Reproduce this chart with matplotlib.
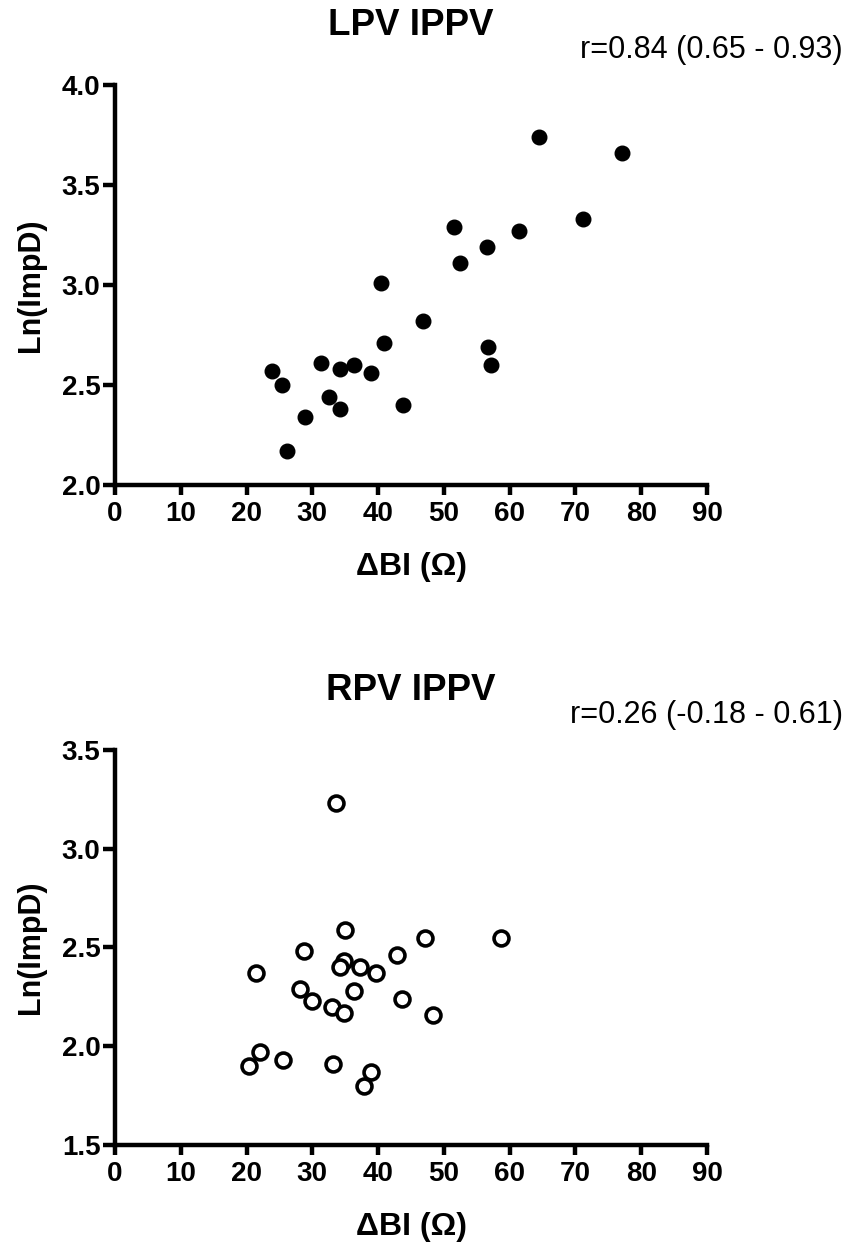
import matplotlib.pyplot as plt

plt.rcParams['font.family'] = ['Liberation Sans', 'DejaVu Sans']

# LPV IPPV (filled circles)
lpv_bi = [64.4, 77.1, 71.1, 51.5, 61.4, 56.5, 52.4, 40.5, 46.8, 40.9, 56.7, 57.1,
          31.3, 36.3, 34.2, 38.9, 23.8, 25.4, 32.5, 34.2, 43.8, 28.9, 26.1]
lpv_ln = [3.74, 3.66, 3.33, 3.29, 3.27, 3.19, 3.11, 3.01, 2.82, 2.71, 2.69, 2.60,
          2.61, 2.60, 2.58, 2.56, 2.57, 2.50, 2.44, 2.38, 2.40, 2.34, 2.17]

# RPV IPPV (open circles)
rpv_bi = [33.6, 35.0, 47.2, 58.7, 28.8, 42.9, 34.8, 34.2, 37.2, 39.7, 21.4, 28.2,
          36.4, 30.0, 43.7, 33.0, 34.8, 48.3, 22.0, 25.5, 20.4, 33.2, 38.9, 37.9]
rpv_ln = [3.23, 2.59, 2.55, 2.55, 2.48, 2.46, 2.43, 2.40, 2.40, 2.37, 2.37, 2.29,
          2.28, 2.23, 2.24, 2.20, 2.17, 2.16, 1.97, 1.93, 1.90, 1.91, 1.87, 1.80]

xticks = list(range(0, 100, 10))

fig = plt.figure(figsize=(8.62, 12.49), dpi=100)


# um painel de dispersao no estilo do Prism
def painel(rect, x, y, titulo, r_texto, yticks, aberto):
    ax = fig.add_axes(rect)
    h = rect[3] * 1249  # altura do eixo em pixels
    if aberto:
        ax.scatter(x, y, s=115, facecolors='white', edgecolors='black', linewidths=2.6, zorder=3, clip_on=False)
    else:
        ax.scatter(x, y, s=110, color='black', zorder=3, clip_on=False)
    ax.set_xlim(0, 90)
    ax.set_ylim(yticks[0], yticks[-1])
    ax.set_xticks(xticks)
    ax.set_yticks(yticks)
    ax.set_yticklabels(['%.1f' % v for v in yticks])
    for s in ['top', 'right']:
        ax.spines[s].set_visible(False)
    for s in ['left', 'bottom']:
        ax.spines[s].set_linewidth(3.2)
    ax.tick_params(axis='x', width=3.2, length=7.5, labelsize=20, pad=4)
    ax.tick_params(axis='y', width=3.2, length=8.5, labelsize=20, pad=2)
    for lab in ax.get_xticklabels() + ax.get_yticklabels():
        lab.set_fontweight('bold')
    ax.set_xlabel('ΔBI (Ω)', fontsize=23, fontweight='bold')
    ax.xaxis.label.set_va('center')
    ax.xaxis.set_label_coords(0.5, -82 / h)
    ax.set_ylabel('Ln(ImpD)', fontsize=22, fontweight='bold')
    ax.yaxis.label.set_va('center')
    ax.yaxis.set_label_coords(-84 / 592, 0.5)
    ax.text(0.5, 1 + 59 / h, titulo, transform=ax.transAxes, fontsize=26.5,
            fontweight='bold', ha='center', va='center')
    ax.text(1.229, 1 + 35 / h, r_texto, transform=ax.transAxes, fontsize=22, ha='right', va='center')
    return ax


painel([0.1334, 0.6117, 0.6868, 0.3203], lpv_bi, lpv_ln, 'LPV IPPV',
       'r=0.84 (0.65 - 0.93)', [2.0, 2.5, 3.0, 3.5, 4.0], False)
painel([0.1334, 0.0833, 0.6868, 0.3163], rpv_bi, rpv_ln, 'RPV IPPV',
       'r=0.26 (-0.18 - 0.61)', [1.5, 2.0, 2.5, 3.0, 3.5], True)

fig.savefig('out.png', dpi=100)
